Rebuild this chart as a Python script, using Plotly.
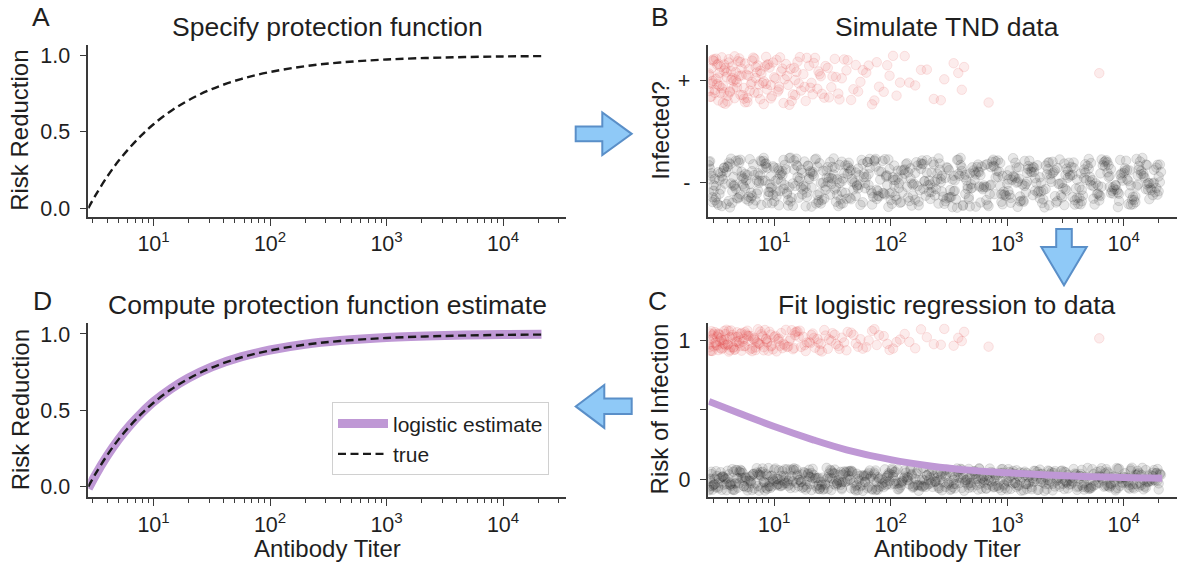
import plotly.graph_objects as go

W, H = 1177, 569
FONT = "Liberation Sans, Arial, Helvetica, sans-serif"

# ---------------- data ----------------
# Panels A and D: protection function on log10(titer)
curve_log10_titer = [0.44, 0.5, 0.6, 0.7, 0.8, 0.9, 1.0, 1.15, 1.3, 1.5, 1.75, 2.0, 2.3, 2.6, 3.0, 3.5, 4.0, 4.33]
true_risk_reduction = [0.0, 0.082, 0.204, 0.31, 0.40, 0.48, 0.55, 0.637, 0.707, 0.78, 0.846, 0.892, 0.93, 0.954, 0.974, 0.987, 0.994, 0.996]
estimate_risk_reduction = [-0.012, 0.074, 0.2, 0.31, 0.404, 0.485, 0.556, 0.642, 0.712, 0.785, 0.85, 0.895, 0.933, 0.957, 0.977, 0.99, 0.997, 0.999]

# Panel C: fitted logistic risk of infection
logit_log10_titer = [0.44, 0.7, 1.0, 1.34, 1.62, 2.0, 2.34, 2.7, 3.0, 3.5, 4.0, 4.33]
logit_risk = [0.56, 0.475, 0.38, 0.283, 0.213, 0.142, 0.097, 0.065, 0.048, 0.026, 0.013, 0.008]

# Panels B and C: simulated test-negative data
# log10(titer) in hundredths of a decade, plus vertical offsets in percent of the jitter band
pos_log10_titer_x100 = [
    44, 45, 46, 47, 48, 49, 50, 51, 52, 53, 54, 55, 56, 57, 58, 59, 61, 62, 63, 64,
    66, 67, 68, 70, 71, 72, 74, 75, 77, 78, 80, 81, 83, 84, 86, 88, 89, 91, 93, 94,
    96, 98, 100, 102, 104, 106, 108, 110, 112, 114, 116, 118, 120, 123, 125, 127, 130, 132, 135, 137,
    140, 143, 146, 149, 152, 155, 158, 162, 166, 170, 174, 179, 184, 188, 194, 199, 205, 212, 221, 231,
    237, 246, 254, 261, 263, 284, 379,
    45, 47, 49, 52, 55, 57, 60, 63, 65, 69, 73, 76, 79, 82, 87, 92, 97, 101, 107, 113,
    119, 126, 134, 141, 150, 160, 168, 176, 186, 197, 208,
    44, 46, 50, 53, 58, 62, 67, 71, 75, 85, 90, 95, 103, 111, 122, 131, 144, 156,
    44, 48, 51, 54, 56, 59, 60, 64, 66, 68, 72, 74, 78, 81, 83, 86, 88, 91, 94, 97,
    99, 104, 109, 115, 117, 121, 128, 133, 139, 147, 153, 163, 172, 181, 190, 202, 216, 226, 243, 258,
    47, 52, 57, 61, 65, 70, 77, 84, 93, 105, 118, 138,
]
pos_offset_pct = [
    20, -65, 47, -12, 83, -38, 5, 61, -79, 29, -50, 90, -21, 38, -92, 14, 70, -43, 2, 55,
    -70, 32, -8, 86, -57, 19, -30, 66, -85, 43, -15, 77, -48, 9, 58, -74, 26, -4, 92, -36,
    50, -62, 12, 80, -25, 35, -89, 64, -18, 45, -55, 1, 73, -40, 24, -81, 57, -10, 88, -33,
    16, -68, 49, -27, 84, -52, 8, 39, -77, 60, -6, 30, -94, 71, -45, 18, -60, 95, -20, 42,
    -73, 4, 67, -37, 52, -87, 28,
    -13, 79, -49, 11, -31, 62, -83, 36, -3, 75, -58, 22, -41, 89, -16, 54, -71, 7, 46, -96,
    33, -26, 68, -53, 15, 82, -35, 40, -79, 59, -9,
    27, -64, 85, -22, 48, -47, 3, 72, -86, 31, -11, 63, -44, 17, 91, -29, 56, -75,
    -42, 76, -15, 53, -88, 31, -61, 9, 94, -28, 46, -72, 18, -6, 85, -50, 37, -93, 61, -19,
    70, -36, 4, -81, 49, -12, 88, -55, 24, -67, 13, 79, -44, 58, -25, 96, -9, 41, -78, 29,
    -2, 65, -47, 83, -31, 17, -69, 52, -14, 90, -58, 35,
]

neg_log10_titer_x100 = [
    45, 53, 61, 66, 75, 84, 90, 97, 108, 115, 121, 133, 140, 147, 158, 163, 171, 182, 190, 196, 207, 213, 224, 231, 239,
    248, 256, 265, 271, 282, 290, 297, 306, 314, 322, 331, 338, 349, 356, 363, 372, 381, 389, 398, 404, 413, 421, 429,
    48, 57, 64, 72, 79, 88, 95, 103, 111, 119, 127, 136, 143, 151, 156, 166, 174, 179, 187, 199, 204, 216, 221, 228, 236,
    245, 253, 261, 268, 277, 285, 294, 302, 309, 318, 327, 335, 342, 352, 360, 367, 376, 385, 392, 401, 409, 417, 425,
    44, 50, 59, 68, 77, 82, 92, 100, 105, 113, 124, 130, 138, 145, 153, 161, 169, 177, 185, 193, 201, 210, 218, 226, 234,
    242, 251, 259, 267, 274, 280, 288, 299, 304, 312, 320, 329, 336, 345, 354, 361, 369, 378, 387, 395, 403, 411, 419, 427, 431,
    47, 55, 63, 70, 80, 86, 94, 99, 109, 117, 125, 131, 141, 149, 155, 164, 172, 181, 188, 195, 203, 211, 219, 229, 237,
    244, 254, 262, 270, 278, 287, 295, 301, 311, 317, 325, 333, 341, 350, 358, 366, 374, 383, 390, 399, 407, 415, 423,
    46, 52, 60, 67, 73, 81, 89, 96, 104, 112, 120, 128, 135, 144, 152, 159, 167, 176, 183, 192, 198, 206, 215, 223, 232,
    240, 247, 257, 264, 272, 279, 289, 296, 305, 313, 321, 328, 337, 346, 353, 362, 371, 379, 386, 394, 402, 410, 418, 426,
    49, 56, 65, 71, 78, 87, 93, 102, 107, 116, 123, 132, 139, 148, 154, 162, 170, 178, 186, 194, 202, 209, 217, 225, 233,
    241, 250, 258, 266, 275, 283, 291, 300, 308, 316, 324, 332, 340, 348, 357, 365, 373, 382, 391, 397, 406, 414, 422, 430,
    45, 54, 62, 69, 76, 85, 91, 98, 106, 114, 122, 129, 137, 146, 157, 165, 173, 180, 189, 197, 205, 212, 220, 227, 235,
    243, 252, 260, 269, 276, 284, 292, 298, 307, 315, 323, 330, 339, 347, 355, 364, 370, 380, 388, 396, 405, 412, 420, 428,
    44, 51, 52, 58, 63, 71, 74, 76, 83, 93, 96, 101, 104, 110, 118, 126, 128, 134, 142, 150, 153, 160, 168, 175, 184,
    191, 200, 206, 214, 222, 230, 238, 246, 249, 255, 263, 273, 281, 286, 293, 303, 310, 319, 326, 334, 343, 351, 359,
    368, 375, 384, 393, 400, 408, 416, 424, 432,
    47, 49, 57, 64, 69, 73, 80, 88, 92, 99, 106, 112, 117, 123, 129, 139, 145, 151, 157, 163, 171, 180, 189, 196, 201,
    209, 218, 227, 233, 240, 251, 258, 266, 272, 277, 286, 294, 300, 309, 318, 324, 335, 344, 352, 358, 366, 377, 384,
    391, 398, 406, 413, 421, 429,
    46, 55, 60, 66, 72, 78, 85, 91, 95, 103, 108, 114, 121, 130, 136, 142, 149, 156, 161, 167, 176, 182, 188, 198, 204,
    212, 219, 226, 234, 243, 250, 257, 264, 270, 278, 285, 292, 301, 307, 314, 321, 329, 339, 347, 354, 363, 370, 378,
    387, 395, 404, 411, 419, 426, 431,
    48, 54, 59, 65, 70, 79, 86, 90, 100, 107, 113, 120, 127, 133, 140, 148, 154, 159, 166, 172, 178, 186, 193, 202, 208,
    215, 223, 228, 238, 244, 253, 261, 269, 275, 282, 290, 297, 305, 311, 317, 326, 333, 341, 349, 356, 362, 372, 381,
    389, 396, 403, 410, 417, 425, 430,
    45, 50, 56, 62, 68, 75, 82, 87, 94, 98, 105, 111, 119, 125, 131, 138, 146, 152, 158, 164, 170, 177, 184, 190, 197,
    203, 210, 217, 224, 231, 236, 242, 248, 255, 262, 268, 276, 283, 289, 296, 303, 310, 316, 323, 331, 337, 345, 351,
    357, 364, 371, 379, 386, 393, 401, 408, 415, 422, 428,
    44, 53, 61, 67, 74, 81, 89, 97, 102, 109, 116, 124, 132, 137, 144, 150, 158, 165, 173, 181, 187, 195, 199, 207, 214,
    221, 229, 235, 241, 247, 254, 260, 267, 273, 280, 288, 295, 302, 308, 315, 322, 328, 336, 343, 350, 360, 367, 374,
    380, 388, 397, 405, 412, 420, 427,
]
neg_offset_pct = [
    12, -45, 78, -9, 33, -71, 54, -22, 88, -60, 5, 41, -83, 19, -37, 66, -14, 92, -55, 27, -3, 71, -90, 38, -26,
    59, -67, 8, 47, -18, 83, -49, 22, -76, 61, -31, 2, 74, -58, 35, -11, 90, -42, 16, -85, 50, -29, 69,
    -33, 57, -80, 24, -6, 85, -52, 14, -39, 68, -17, 93, -64, 31, -2, 49, -88, 20, 62, -44, 9, -73, 37, -25, 80,
    -56, 11, 45, -94, 28, -12, 76, -48, 3, 64, -35, 52, -79, 18, -61, 39, -4, 87, -27, 55, -69, 25, -50,
    81, -15, 40, -62, 29, -86, 7, 58, -34, 95, -47, 13, -78, 46, -21, 67, -1, 34, -57, 84, -40, 15, -91, 53, -8,
    74, -30, 26, -66, 60, -19, 89, -53, 10, -72, 42, -36, 79, -5, 30, -84, 65, -43, 21, -97, 48, -16, 70, -38, 1,
    -58, 23, -4, 77, -41, 36, -81, 63, -10, 86, -28, 44, -70, 17, -93, 56, -24, 32, -65, 91, -13, 48, -51, 4, 70,
    -36, 26, -89, 59, -20, 81, -46, 11, -75, 37, -2, 66, -54, 29, -87, 51, -15, 79, -33, 7, -68, 45, -23,
    36, -88, 60, -25, 14, -53, 82, -7, 47, -69, 21, -40, 90, -16, 57, -82, 3, 73, -32, 42, -96, 19, -59, 66, -11,
    34, -74, 88, -45, 10, -27, 62, -86, 24, -8, 54, -63, 31, -50, 77, -19, 4, -71, 39, -30, 85, -55, 18, -1,
    -70, 44, -13, 89, -56, 6, 61, -35, 28, -92, 50, -20, 75, -48, 12, -64, 39, -3, 83, -43, 20, -77, 55, -31, 7,
    94, -60, 33, -15, 70, -87, 45, -6, 58, -39, 16, -98, 41, -22, 78, -52, 9, 67, -44, 30, -12, 82, -66, 23,
    53, -28, 72, -63, 8, -44, 96, -19, 35, -75, 16, 64, -50, 2, -85, 43, -10, 80, -34, 27, -68, 51, -5, 86, -38,
    13, -57, 69, -24, 40, -93, 22, -47, 77, -14, 58, -81, 36, -2, 61, -29, 92, -54, 25, -73, 47, -9, 68,
    -22, 67, -81, 40, -5, 93, -47, 18, -66, 29, 74, -38, 6, -90, 51, -14, 82, -57, 25, -1, 61, -76, 36, -28, 88,
    -43, 11, -69, 46, -18, 79, -52, 3, -84, 57, -33, 21, -95, 68, -9, 42, -61, 15, 85, -40, 31, -73, 54,
    -24, 9, -87, 63, -12, 37, -56, 96, -30,
    41, -77, 14, 58, -35, 86, -8, -62, 27, 73, -49, 4, -91, 50, -20, 66, -43, 19, 94, -67, 33, -11, 80, -53, 22,
    -84, 47, -4, 71, -38, 12, -58, 89, -26, 39, -79, 60, -15, 28, -96, 52, -32, 77, -6, 44, -70, 17, -45,
    83, -19, 35, -88, 64, -2,
    -48, 26, -93, 63, -16, 42, -72, 8, 84, -37, 55, -25, 97, -60, 20, -83, 46, -7, 69, -41, 13, -78, 57, -29, 90,
    -54, 34, -10, 75, -65, 1, 48, -99, 30, -21, 62, -46, 86, -34, 17, -71, 40, -2, 81, -59, 24, -86, 53,
    -13, 67, -40, 5, 92, -27, 49,
    70, -11, 37, -85, 22, -57, 91, -31, 6, -74, 45, -19, 64, -94, 32, -3, 80, -48, 15, -66, 54, -23, 87, -42, 10,
    -80, 39, -15, 73, -51, 26, -97, 58, -7, 43, -69, 19, -36, 95, -55, 3, 67, -26, 48, -89, 29, -60, 76,
    -17, 52, -45, 11, -78, 34, -4,
    -35, 83, -59, 12, -98, 47, -24, 71, -2, 56, -82, 30, -45, 93, -13, 38, -70, 60, -28, 4, 77, -53, 21, -87, 44,
    -9, 66, -39, 16, -75, 87, -21, 50, -63, 8, -92, 35, -16, 72, -46, 25, -80, 59, -6, 41, -67, 13, 90,
    -32, 57, -74, 22, -50, 79, -11, 45, -86, 32, -3,
    58, -40, 9, -73, 85, -16, 44, -88, 23, -55, 69, -4, 37, -95, 62, -29, 14, 81, -61, 28, -10, 92, -47, 52, -22,
    75, -68, 5, 39, -83, 18, -35, 96, -57, 31, -12, 65, -76, 47, -1, 84, -50, 20, -90, 56, -26, 11, 71,
    -64, 35, -18, 88, -43, 27, -8,
]

major_ticks = [10, 100, 1000, 10000]
major_tick_text = ["10<sup>1</sup>", "10<sup>2</sup>", "10<sup>3</sup>", "10<sup>4</sup>"]

# ---------------- helpers ----------------
def fx(p):
    return p / W

def fy(p):
    return 1 - p / H

def titer(vals, scale=1.0):
    return [10 ** (v * scale) for v in vals]

n_pos = min(len(pos_log10_titer_x100), len(pos_offset_pct))
n_neg = min(len(neg_log10_titer_x100), len(neg_offset_pct))
pos_x = titer(pos_log10_titer_x100[:n_pos], 0.01)
neg_x = titer(neg_log10_titer_x100[:n_neg], 0.01)

JIT_B = 0.25   # half-width of jitter band in panel B (category units)
JIT_C = 0.085  # half-width of jitter band in panel C (probability units)

RED_FILL, RED_LINE = "rgba(225,70,70,0.10)", "rgba(225,70,70,0.13)"
GRAY_FILL, GRAY_LINE = "rgba(30,30,30,0.10)", "rgba(30,30,30,0.12)"
PURPLE = "#bf98d5"
AX = "#3a3a3a"
TXT = "#1f1f1f"
MSIZE = 9.5

fig = go.Figure()

# Panel A
fig.add_trace(go.Scatter(x=titer(curve_log10_titer), y=true_risk_reduction, mode="lines",
                         line=dict(color="#1a1a1a", width=2.4, dash="8px,4.5px", shape="spline"),
                         showlegend=False, xaxis="x", yaxis="y"))

# Panel B
fig.add_trace(go.Scatter(x=neg_x, y=[0 + d / 100 * JIT_B for d in neg_offset_pct[:n_neg]], mode="markers",
                         marker=dict(size=MSIZE, color=GRAY_FILL, line=dict(color=GRAY_LINE, width=1)),
                         showlegend=False, xaxis="x2", yaxis="y2"))
fig.add_trace(go.Scatter(x=pos_x, y=[1 + d / 100 * JIT_B for d in pos_offset_pct[:n_pos]], mode="markers",
                         marker=dict(size=MSIZE, color=RED_FILL, line=dict(color=RED_LINE, width=1)),
                         showlegend=False, xaxis="x2", yaxis="y2"))

# Panel C
fig.add_trace(go.Scatter(x=neg_x, y=[0 - d / 100 * JIT_C for d in neg_offset_pct[:n_neg][::-1]], mode="markers",
                         marker=dict(size=MSIZE, color=GRAY_FILL, line=dict(color=GRAY_LINE, width=1)),
                         showlegend=False, xaxis="x3", yaxis="y3"))
fig.add_trace(go.Scatter(x=pos_x, y=[1 - d / 100 * JIT_C for d in pos_offset_pct[:n_pos][::-1]], mode="markers",
                         marker=dict(size=MSIZE, color=RED_FILL, line=dict(color=RED_LINE, width=1)),
                         showlegend=False, xaxis="x3", yaxis="y3"))
fig.add_trace(go.Scatter(x=titer(logit_log10_titer), y=logit_risk, mode="lines",
                         line=dict(color=PURPLE, width=7, shape="spline"),
                         showlegend=False, xaxis="x3", yaxis="y3"))

# Panel D
fig.add_trace(go.Scatter(x=titer(curve_log10_titer), y=estimate_risk_reduction, mode="lines",
                         name="logistic estimate",
                         line=dict(color=PURPLE, width=9, shape="spline"),
                         xaxis="x4", yaxis="y4"))
fig.add_trace(go.Scatter(x=titer(curve_log10_titer), y=true_risk_reduction, mode="lines",
                         name="true",
                         line=dict(color="#1a1a1a", width=2.4, dash="8px,4.5px", shape="spline"),
                         xaxis="x4", yaxis="y4"))

# ---------------- axes ----------------
minor_vals = [m * 10 ** k for k in range(0, 5) for m in range(2, 10)]
TICK_SIZE = 21.5

def xaxis(domain, rng, anchor):
    return dict(domain=domain, anchor=anchor, type="log", range=rng,
                tickvals=major_ticks, ticktext=major_tick_text,
                showline=True, linecolor=AX, linewidth=1.5, ticks="outside", ticklen=7,
                tickwidth=1.3, tickcolor=AX, showgrid=False, zeroline=False,
                tickfont=dict(family=FONT, size=TICK_SIZE, color=TXT),
                minor=dict(tickvals=minor_vals, ticks="outside", ticklen=4, tickwidth=1,
                           tickcolor=AX, showgrid=False))

def yaxis(domain, rng, anchor, tickvals, ticktext):
    return dict(domain=domain, anchor=anchor, range=rng, tickvals=tickvals, ticktext=ticktext,
                showline=True, linecolor=AX, linewidth=1.5, ticks="outside", ticklen=7,
                tickwidth=1.3, tickcolor=AX, showgrid=False, zeroline=False,
                ticklabelstandoff=5,
                tickfont=dict(family=FONT, size=TICK_SIZE, color=TXT))

col1 = [fx(88.3), fx(565.6)]
col2 = [fx(708.4), 1.0]
row1 = [fy(217.7), fy(44.3)]
row2 = [fy(500.5), fy(325)]
xr1 = [0.44, 0.44 + 477.3 / 116.5]
xr2 = [0.435, 0.435 + (W - 708.4) / 116.5]

fig.update_layout(
    width=W, height=H, margin=dict(l=0, r=0, t=0, b=0),
    paper_bgcolor="white", plot_bgcolor="white",
    font=dict(family=FONT, color=TXT),
    xaxis=xaxis(col1, xr1, "y"),
    yaxis=yaxis(row1, [-0.0565, 1.0695], "x", [0, 0.5, 1], ["0.0", "0.5", "1.0"]),
    xaxis2=xaxis(col2, xr2, "y2"),
    yaxis2=yaxis(row1, [-0.337, 1.347], "x2", [0, 1], ["-", "+"]),
    xaxis3=xaxis(col2, xr2, "y3"),
    yaxis3=yaxis(row2, [-0.127, 1.123], "x3", [0, 0.5, 1], ["0", "", "1"]),
    xaxis4=xaxis(col1, xr1, "y4"),
    yaxis4=yaxis(row2, [-0.068, 1.071], "x4", [0, 0.5, 1], ["0.0", "0.5", "1.0"]),
    legend=dict(x=fx(332), y=fy(405), xanchor="left", yanchor="top",
                bgcolor="white", bordercolor="#d0d0d0", borderwidth=1,
                font=dict(family=FONT, size=21, color=TXT), itemwidth=50,
                tracegroupgap=4),
)

# ---------------- text ----------------
def ann(text, x, y, size, angle=0):
    return dict(text=text, x=fx(x), y=fy(y), xref="paper", yref="paper", showarrow=False,
                xanchor="center", yanchor="middle", textangle=angle,
                font=dict(family=FONT, size=size, color=TXT))

TITLE = 26.5
LAB = 24
annotations = [
    ann("A", 41, 16, TITLE), ann("Specify protection function", 327, 26, TITLE),
    ann("B", 660, 16, TITLE), ann("Simulate TND data", 947, 26, TITLE),
    ann("D", 42, 303, TITLE), ann("Compute protection function estimate", 327, 307, TITLE),
    ann("C", 657, 303, TITLE), ann("Fit logistic regression to data", 947, 307, TITLE),
    ann("Risk Reduction", 20, 131, LAB, -90),
    ann("Infected?", 661, 131, LAB, -90),
    ann("Risk Reduction", 20, 413, LAB, -90),
    ann("Risk of Infection", 659, 412, LAB, -90),
    ann("Antibody Titer", 327, 552, LAB),
    ann("Antibody Titer", 947, 552, LAB),
]
fig.update_layout(annotations=annotations)

# ---------------- flow arrows (decoration) ----------------
arrow_right = [(575.7, 126.5), (602.3, 126.5), (602.3, 112.5), (631.7, 134), (602.3, 155.5), (602.3, 141.5), (575.7, 141.5)]
arrow_down = [(1056.2, 230), (1071.8, 230), (1071.8, 248.3), (1086.7, 248.3), (1064, 286.7), (1041.3, 248.3), (1056.2, 248.3)]
arrow_left = [(631.7, 401), (604.3, 401), (604.3, 387.3), (575.7, 409), (604.3, 430.7), (604.3, 416.7), (631.7, 416.7)]

def poly(pts):
    return "M " + " L ".join(f"{fx(a):.5f},{fy(b):.5f}" for a, b in pts) + " Z"

fig.update_layout(shapes=[
    dict(type="path", path=poly(p), xref="paper", yref="paper",
         fillcolor="#8fc9f7", line=dict(color="#5a8fc8", width=2))
    for p in (arrow_right, arrow_down, arrow_left)
])

fig.write_html("out.html")
